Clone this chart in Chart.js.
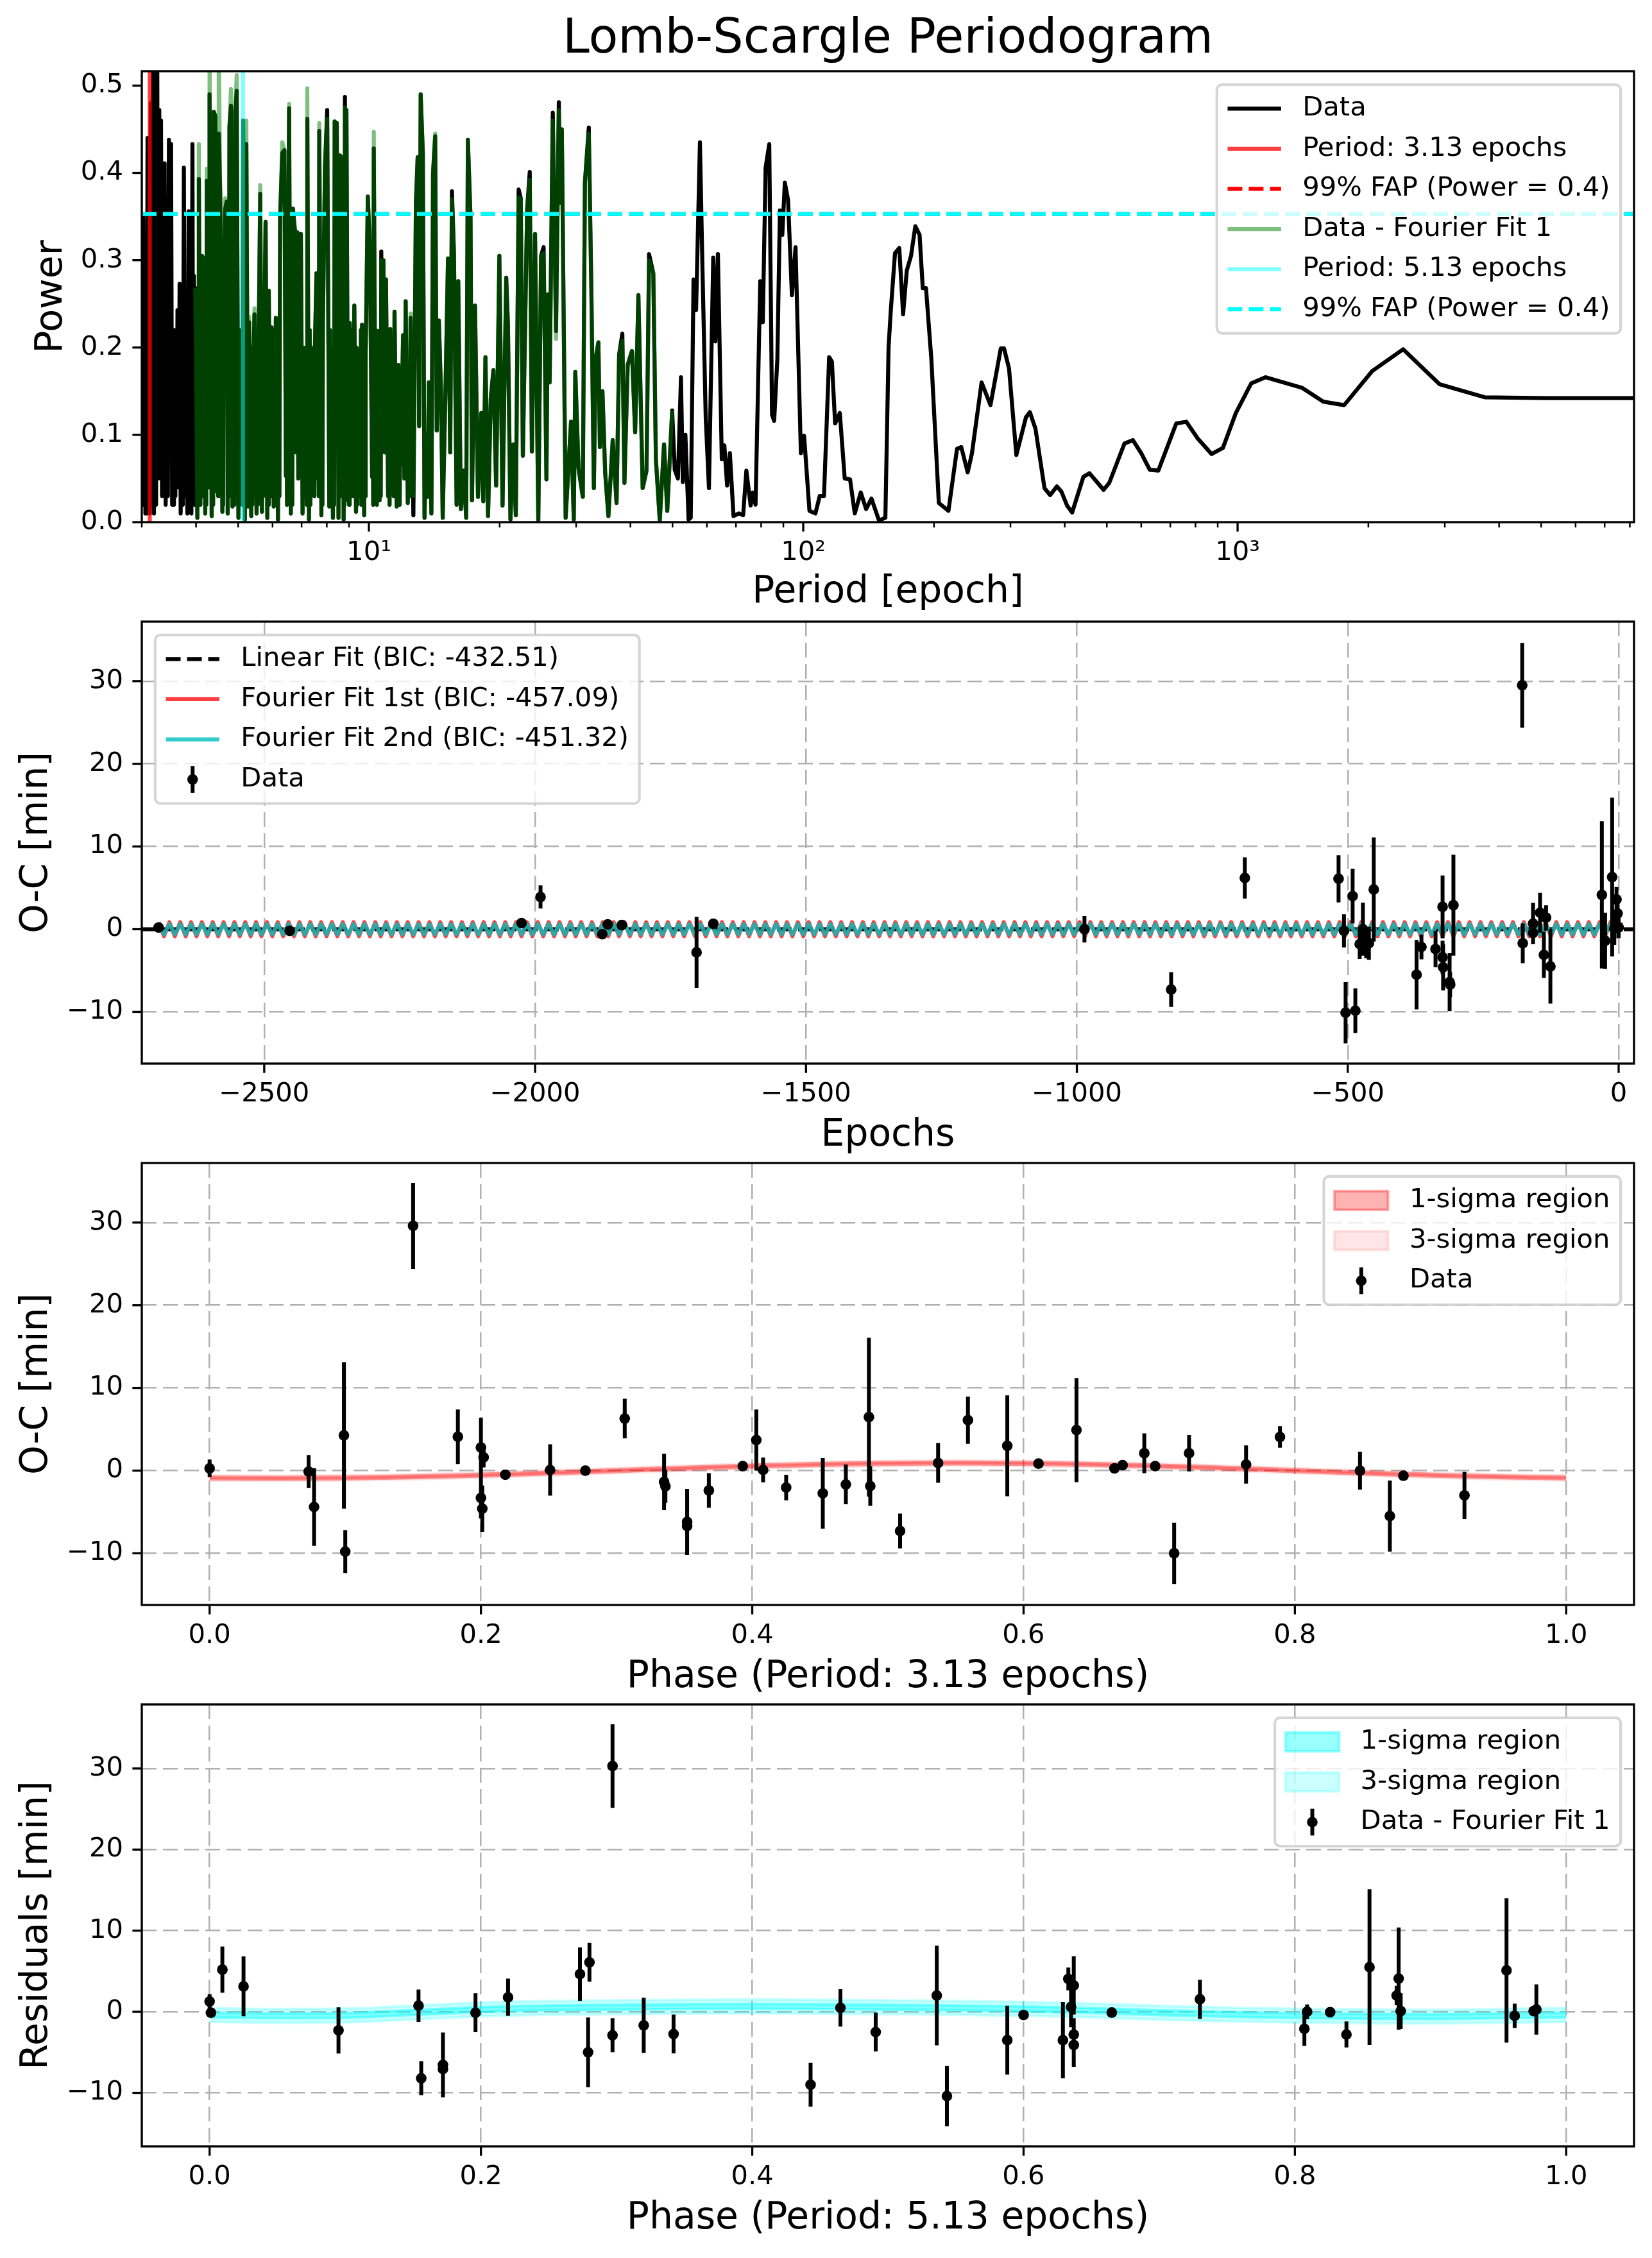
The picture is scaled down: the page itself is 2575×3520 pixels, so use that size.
<!DOCTYPE html>
<html>
<head>
<meta charset="utf-8">
<title>Lomb-Scargle Periodogram</title>
<script src="https://cdn.jsdelivr.net/npm/chart.js@4.4.0/dist/chart.umd.min.js"></script>
<style>
  html, body { margin: 0; padding: 0; background: #ffffff; }
  body { position: relative; width: 2575px; height: 3520px; overflow: hidden; }
  canvas { position: absolute; left: 0; }
</style>
</head>
<body>
<canvas id="p1" width="2575" height="974" style="top:0px;width:2575px;height:974px"></canvas>
<canvas id="p2" width="2575" height="903" style="top:915px;width:2575px;height:903px"></canvas>
<canvas id="p3" width="2575" height="903" style="top:1759px;width:2575px;height:903px"></canvas>
<canvas id="p4" width="2575" height="903" style="top:2603px;width:2575px;height:903px"></canvas>
<script>
// ================= DATA =================
// ---- Panel 1: Lomb-Scargle periodogram ----
const periodRange = [3.0, 8180];
const powerRange = [0, 0.5165];
const periodTicks = [3,4,5,6,7,8,9,10,20,30,40,50,60,70,80,90,100,200,300,400,500,600,700,800,900,1000,2000,3000,4000,5000,6000,7000,8000];
const periodMajorTicks = [10, 100, 1000];
const periodTickLabels = {10: '10\u00B9', 100: '10\u00B2', 1000: '10\u00B3'};
const powerTicks = [0, 0.1, 0.2, 0.3, 0.4, 0.5];
const powerTickLabels = ['0.0', '0.1', '0.2', '0.3', '0.4', '0.5'];
const periodMarks = [3.13, 5.13];
const fapLevels = [0.353, 0.353];

const lowPeriods = [3.000,3.012,3.024,3.036,3.048,3.058,3.068,3.080,3.093,3.105,
  3.117,3.130,3.146,3.164,3.182,3.200,3.218,3.236,3.255,3.273,
  3.292,3.306,3.322,3.340,3.360,3.372,3.386,3.405,3.425,3.445,
  3.464,3.484,3.504,3.524,3.544,3.558,3.572,3.584,3.596,3.610,
  3.625,3.645,3.666,3.687,3.708,3.729,3.750,3.771,3.793,3.820,
  3.845,3.862,3.880,3.902,3.924,3.940,3.956,3.970];
const lowPower = [0.35,0.02,0.349,0.02,0.30,0.01,0.20,0.01,0.44,0.02,
  0.35,0.01,0.48,0.02,0.56,0.01,0.25,0.02,0.58,0.05,
  0.472,0.10,0.46,0.03,0.275,0.05,0.411,0.02,0.20,0.03,
  0.438,0.10,0.433,0.02,0.20,0.02,0.22,0.03,0.217,0.05,
  0.243,0.04,0.273,0.01,0.25,0.02,0.406,0.03,0.22,0.01,
  0.356,0.02,0.25,0.01,0.433,0.05,0.282,0.02];

const midPeriods = [3.983,4.028,4.039,4.050,4.060,4.092,4.105,4.118,4.130,4.167,
  4.200,4.211,4.222,4.234,4.273,4.281,4.289,4.297,4.346,4.362,
  4.379,4.395,4.430,4.471,4.484,4.498,4.511,4.547,4.599,4.608,
  4.616,4.625,4.668,4.705,4.731,4.746,4.760,4.775,4.813,4.851,
  4.875,4.899,4.923,4.962,5.008,5.027,5.046,5.065,5.088,5.111,
  5.134,5.181,5.195,5.208,5.222,5.270,5.280,5.290,5.300,5.360,
  5.375,5.390,5.405,5.452,5.514,5.532,5.549,5.567,5.621,5.673,
  5.692,5.711,5.730,5.783,5.836,5.851,5.866,5.882,5.930,5.943,
  5.957,5.970,6.038,6.061,6.083,6.106,6.176,6.199,6.222,6.246,
  6.318,6.390,6.441,6.461,6.480,6.500,6.551,6.611,6.636,6.661,
  6.686,6.762,6.800,6.839,6.878,6.917,6.945,6.973,7.036,7.057,7.078,7.100,
  7.160,7.178,7.196,7.214,7.279,7.307,7.334,7.362,7.446,7.467,
  7.489,7.510,7.574,7.630,7.649,7.668,7.687,7.774,7.795,7.815,
  7.836,7.925,8.016,8.107,8.138,8.169,8.200,8.265,8.290,8.315,
  8.340,8.388,8.435,8.512,8.535,8.557,8.580,8.629,8.678,8.747,8.767,8.787,
  8.807,8.842,8.877,8.958,8.982,9.005,9.029,9.080,9.132,9.155,9.177,
  9.200,9.257,9.342,9.361,9.381,9.400,9.448,9.556,9.585,9.614,
  9.643,9.753,9.779,9.804,9.830,9.943,10.056,10.171,10.202,10.232,
  10.263,10.368,10.400,10.431,10.463,10.582,10.614,10.647,10.679,10.740,10.800,
  10.874,10.948,11.073,11.115,11.158,11.200,11.302,11.353,11.405,11.456,11.587,
  11.622,11.657,11.692,11.772,11.812,11.852,11.920,11.988,12.070,12.152,12.290,12.351,12.412,12.473,
  12.66,12.83,12.95,13.05,13.16,13.31,13.43,13.55,
  13.66,13.74,13.93,14.05,14.21,14.33,14.49,14.65,14.79,15.04,
  15.21,15.39,15.53,15.70,15.92,16.06,16.28,16.51,16.75,16.90,
  17.14,17.27,17.55,17.83,18.14,18.34,18.55,18.81,19.08,19.35,
  19.63,19.97,20.31,20.71,20.90,21.18,21.50,21.79,22.12,22.37,
  22.62,23.14,23.46,23.73,24.13,24.55,24.91,25.25,25.63,25.83,
  26.07,26.51,26.97,27.37,27.59,27.81,28.38,28.87,29.20,29.63,
  29.87,30.38,31.08,31.43,32.08,32.52,32.96,33.26,33.76,34.03,
  34.49,35.00,35.60,36.42,37.17,37.68,38.33,38.76,39.43,40.33,
  41.02,41.73,42.69,43.57,44.16,45.17,45.79,46.74,47.81,48.63,
  49.91];
const midPower = [0.268,0.005,0.17,0.02,0.393,0.02,0.2,0.03,0.305,0.30,
  0.01,0.15,0.02,0.391,0.053,0.2,0.04,0.49,0.007,0.22,
  0.02,0.47,0.465,0.035,0.25,0.03,0.445,0.376,0.012,0.2,
  0.02,0.26,0.359,0.367,0.01,0.22,0.03,0.453,0.477,0.018,
  0.24,0.02,0.47,0.494,0.005,0.22,0.03,0.025,0.2,0.02,
  0.46,0.003,0.18,0.02,0.433,0.018,0.17,0.03,0.229,0.007,
  0.2,0.02,0.15,0.238,0.01,0.21,0.02,0.18,0.376,0.012,
  0.2,0.03,0.17,0.344,0.005,0.19,0.02,0.265,0.05,0.2,
  0.03,0.223,0.018,0.22,0.02,0.234,0.003,0.2,0.03,0.349,
  0.423,0.426,0.053,0.18,0.02,0.20,0.474,0.01,0.22,0.02,
  0.359,0.332,0.08,0.332,0.05,0.33,0.06,0.33,0.01,0.2,0.03,0.187,
  0.05,0.2,0.02,0.462,0.003,0.22,0.02,0.199,0.054,0.2,
  0.03,0.20,0.285,0.05,0.21,0.03,0.448,0.008,0.2,0.02,
  0.228,0.408,0.472,0.018,0.22,0.03,0.174,0.005,0.2,0.02,
  0.459,0.2,0.457,0.005,0.21,0.03,0.42,0.2,0.418,0.003,0.19,0.02,
  0.487,0.25,0.472,0.025,0.2,0.02,0.228,0.10,0.03,0.22,0.03,
  0.15,0.248,0.012,0.2,0.02,0.12,0.197,0.03,0.22,0.02,
  0.226,0.008,0.2,0.03,0.192,0.373,0.31,0.052,0.2,0.02,
  0.428,0.025,0.18,0.02,0.219,0.025,0.2,0.03,0.31,0.1,0.30,
  0.08,0.278,0.03,0.2,0.02,0.221,0.042,0.19,0.03,0.241,0.018,
  0.17,0.02,0.18,0.02,0.15,0.066,0.15,0.214,0.05,0.253,0.022,0.18,0.03,0.234,
  0.008,0.366,0.418,0.11,0.49,0.423,0.005,0.10,
  0.029,0.16,0.01,0.40,0.442,0.105,0.231,0.153,0.005,0.174,
  0.302,0.08,0.379,0.308,0.02,0.276,0.015,0.059,0.005,0.438,
  0.349,0.025,0.248,0.029,0.125,0.024,0.189,0.007,0.142,0.174,
  0.042,0.305,0.019,0.28,0.226,0.003,0.089,0.008,0.381,0.371,
  0.076,0.359,0.401,0.081,0.33,0.002,0.305,0.315,0.049,0.261,
  0.16,0.469,0.219,0.481,0.366,0.45,0.005,0.072,0.115,0.003,
  0.172,0.062,0.029,0.389,0.452,0.268,0.039,0.187,0.206,0.086,
  0.15,0.056,0.007,0.094,0.022,0.192,0.216,0.045,0.18,0.196,
  0.103,0.26,0.039,0.059,0.307,0.285,0.072,0.002,0.089,0.013,
  0.128];
const midResidPower = [0.268,0.005,0.17,0.02,0.433,0.02,0.2,0.03,0.305,0.30,
  0.01,0.15,0.02,0.405,0.053,0.2,0.04,0.56,0.007,0.22,
  0.02,0.47,0.465,0.035,0.25,0.03,0.56,0.376,0.012,0.2,
  0.02,0.27,0.371,0.367,0.01,0.22,0.03,0.453,0.496,0.018,
  0.24,0.02,0.47,0.512,0.005,0.22,0.03,0.025,0.2,0.02,
  0.46,0.003,0.18,0.02,0.46,0.018,0.17,0.03,0.235,0.007,
  0.2,0.02,0.15,0.245,0.01,0.21,0.02,0.18,0.386,0.012,
  0.2,0.03,0.17,0.344,0.005,0.19,0.02,0.265,0.05,0.2,
  0.03,0.223,0.018,0.22,0.02,0.234,0.003,0.2,0.03,0.349,
  0.435,0.426,0.053,0.18,0.02,0.20,0.479,0.01,0.22,0.02,
  0.359,0.332,0.08,0.332,0.05,0.33,0.06,0.33,0.01,0.2,0.03,0.187,
  0.05,0.2,0.02,0.497,0.003,0.22,0.02,0.199,0.054,0.2,
  0.03,0.20,0.285,0.05,0.21,0.03,0.457,0.008,0.2,0.02,
  0.228,0.408,0.462,0.018,0.22,0.03,0.174,0.005,0.2,0.02,
  0.459,0.2,0.457,0.005,0.21,0.03,0.42,0.2,0.418,0.003,0.19,0.02,
  0.475,0.25,0.472,0.025,0.2,0.02,0.228,0.10,0.03,0.22,0.03,
  0.15,0.248,0.012,0.2,0.02,0.12,0.197,0.03,0.22,0.02,
  0.226,0.008,0.2,0.03,0.192,0.373,0.31,0.052,0.2,0.02,
  0.447,0.025,0.18,0.02,0.219,0.025,0.2,0.03,0.30,0.1,0.30,
  0.08,0.278,0.03,0.2,0.02,0.221,0.042,0.19,0.03,0.241,0.018,
  0.17,0.02,0.18,0.02,0.15,0.066,0.15,0.214,0.05,0.253,0.022,0.18,0.03,0.239,
  0.03,0.366,0.418,0.11,0.49,0.423,0.005,0.10,
  0.029,0.16,0.01,0.40,0.445,0.105,0.231,0.153,0.005,0.174,
  0.302,0.08,0.37,0.308,0.02,0.276,0.015,0.059,0.005,0.438,
  0.349,0.025,0.248,0.029,0.125,0.024,0.189,0.007,0.142,0.174,
  0.042,0.305,0.019,0.28,0.226,0.003,0.089,0.008,0.372,0.371,
  0.076,0.359,0.392,0.081,0.33,0.002,0.305,0.308,0.049,0.261,
  0.16,0.46,0.21,0.472,0.366,0.45,0.005,0.072,0.115,0.003,
  0.172,0.062,0.029,0.389,0.445,0.268,0.039,0.187,0.206,0.086,
  0.15,0.056,0.007,0.094,0.022,0.192,0.208,0.045,0.18,0.196,
  0.103,0.26,0.039,0.059,0.30,0.285,0.072,0.002,0.089,0.013,
  0.128];

const highPeriods = [50.60,51.46,52.30,52.82,53.54,54.46,55.08,55.90,56.67,57.83,
  58.63,59.63,60.66,62.05,62.75,63.61,64.93,65.82,66.79,67.78,
  69.10,71.09,72.72,73.97,75.66,76.53,77.66,79.62,80.71,81.91,
  83.51,84.75,85.71,87.18,88.38,89.49,90.71,92.27,94.17,96.00,
  98.76,100.46,103.35,106.68,109.12,111.63,114.71,116.41,118.41,121.40,
  124.60,128.18,131.42,135.66,139.56,143.58,149.39,154.55,157.20,159.00,
  162.64,166.37,169.80,173.11,177.08,181.14,185.29,188.47,191.70,197.21,
  205.19,215.93,225.95,231.13,239.13,244.61,257.42,269.8,285.0,290.0,
  297.7,309.5,325.6,332.5,342.5,359.3,370.2,383.7,393.0,405.0,
  416.0,441.6,456.0,491.5,506.5,548.8,574.0,600.0,627.8,656.9,
  722.4,762.0,809.0,871.6,925.0,990.8,1075,1159,1406,1575,
  1759,2041,2405,2918,3705,5143,8180];
const highPower = [0.06,0.05,0.166,0.046,0.10,0.003,0.005,0.278,0.243,0.435,
  0.288,0.12,0.039,0.303,0.207,0.307,0.072,0.088,0.042,0.079,
  0.007,0.01,0.008,0.059,0.019,0.034,0.02,0.276,0.229,0.406,
  0.433,0.123,0.116,0.187,0.357,0.329,0.389,0.369,0.26,0.315,
  0.079,0.099,0.013,0.01,0.03,0.03,0.189,0.184,0.113,0.125,
  0.05,0.049,0.01,0.034,0.015,0.027,0.002,0.005,0.20,0.241,
  0.308,0.314,0.238,0.288,0.305,0.339,0.329,0.268,0.268,0.187,
  0.022,0.013,0.084,0.086,0.057,0.079,0.16,0.134,0.199,0.199,
  0.176,0.077,0.12,0.126,0.107,0.039,0.031,0.041,0.035,0.019,
  0.011,0.052,0.056,0.037,0.045,0.09,0.094,0.079,0.06,0.059,
  0.113,0.115,0.096,0.078,0.085,0.125,0.159,0.166,0.154,0.138,
  0.134,0.173,0.198,0.158,0.143,0.142,0.142];

// ---- Panel 2: O-C vs epoch ----
const epochRange = [-2726, 28.4];
const ocRange = [-16.25, 37.2];
const epochTicks = [-2500, -2000, -1500, -1000, -500, 0];
const epochTickLabels = ['\u22122500', '\u22122000', '\u22121500', '\u22121000', '\u2212500', '0'];
const ocTicks = [-10, 0, 10, 20, 30];
const ocTickLabels = ['\u221210', '0', '10', '20', '30'];

const epochs = [-2695,-2453,-2025,-1990,-1876,-1866,-1840,-1702,-1671,-986,-826,-690,
  -517,-507,-504,-491,-486,-478,-472,-466,-461,-452,
  -373,-364,-338,-325,-325,-324,-312,-311,-305,
  -178,-177,-158,-158,-145,-138,-134,-126,
  -31,-25,-12,-8,-4,-2,0];
const ocValues = [0.2,-0.2,0.74,3.9,-0.6,0.58,0.5,-2.8,0.66,0.0,-7.3,6.2,
  6.1,-0.2,-10.1,4.0,-9.85,-1.8,0.0,-2.0,-1.7,4.8,
  -5.5,-2.15,-2.4,2.7,-3.4,-4.6,-6.4,-6.7,2.9,
  29.5,-1.7,0.68,-0.45,2.0,-3.1,1.4,-4.5,
  4.15,-1.4,6.3,0.1,3.6,1.9,0.2];
const ocErrors = [0.3,0.5,0.4,1.4,0.5,0.5,0.4,4.3,0.4,1.6,2.1,2.5,
  2.85,2.0,3.7,3.3,2.7,1.8,3.2,1.5,2.0,6.3,
  4.2,1.5,2.2,3.8,2.0,2.8,3.5,1.5,6.1,
  5.13,2.4,2.5,1.0,2.4,2.8,1.5,4.5,
  8.9,3.4,9.6,2.0,1.5,1.5,1.3];

const linFitEpochs = [-2726, 28.4];
const linFitOC = [0.0, 0.0];

const waveEpochs = [-2695,-2685,-2675,-2665,-2655,-2645,-2635,-2625,-2615,-2605,
  -2595,-2585,-2575,-2565,-2555,-2545,-2535,-2525,-2515,-2505,
  -2495,-2485,-2475,-2465,-2455,-2445,-2435,-2425,-2415,-2405,
  -2395,-2385,-2375,-2365,-2355,-2345,-2335,-2325,-2315,-2305,
  -2295,-2285,-2275,-2265,-2255,-2245,-2235,-2225,-2215,-2205,
  -2195,-2185,-2175,-2165,-2155,-2145,-2135,-2125,-2115,-2105,
  -2095,-2085,-2075,-2065,-2055,-2045,-2035,-2025,-2015,-2005,
  -1995,-1985,-1975,-1965,-1955,-1945,-1935,-1925,-1915,-1905,
  -1895,-1885,-1875,-1865,-1855,-1845,-1835,-1825,-1815,-1805,
  -1795,-1785,-1775,-1765,-1755,-1745,-1735,-1725,-1715,-1705,
  -1695,-1685,-1675,-1665,-1655,-1645,-1635,-1625,-1615,-1605,
  -1595,-1585,-1575,-1565,-1555,-1545,-1535,-1525,-1515,-1505,
  -1495,-1485,-1475,-1465,-1455,-1445,-1435,-1425,-1415,-1405,
  -1395,-1385,-1375,-1365,-1355,-1345,-1335,-1325,-1315,-1305,
  -1295,-1285,-1275,-1265,-1255,-1245,-1235,-1225,-1215,-1205,
  -1195,-1185,-1175,-1165,-1155,-1145,-1135,-1125,-1115,-1105,
  -1095,-1085,-1075,-1065,-1055,-1045,-1035,-1025,-1015,-1005,
  -995,-985,-975,-965,-955,-945,-935,-925,-915,-905,
  -895,-885,-875,-865,-855,-845,-835,-825,-815,-805,
  -795,-785,-775,-765,-755,-745,-735,-725,-715,-705,
  -695,-685,-675,-665,-655,-645,-635,-625,-615,-605,
  -595,-585,-575,-565,-555,-545,-535,-525,-515,-505,
  -495,-485,-475,-465,-455,-445,-435,-425,-415,-405,
  -395,-385,-375,-365,-355,-345,-335,-325,-315,-305,
  -295,-285,-275,-265,-255,-245,-235,-225,-215,-205,
  -195,-185,-175,-165,-155,-145,-135,-125,-115,-105,
  -95,-85,-75,-65,-55,-45,-35,-25,-15,-5,
  5];
const redWave = [0.85,-0.85,0.85,-0.85,0.85,-0.85,0.85,-0.85,0.85,-0.85,
  0.85,-0.85,0.85,-0.85,0.85,-0.85,0.85,-0.85,0.85,-0.85,
  0.85,-0.85,0.85,-0.85,0.85,-0.85,0.85,-0.85,0.85,-0.85,
  0.85,-0.85,0.85,-0.85,0.85,-0.85,0.85,-0.85,0.85,-0.85,
  0.85,-0.85,0.85,-0.85,0.85,-0.85,0.85,-0.85,0.85,-0.85,
  0.85,-0.85,0.85,-0.85,0.85,-0.85,0.85,-0.85,0.85,-0.85,
  0.85,-0.85,0.85,-0.85,0.85,-0.85,0.85,-0.85,0.85,-0.85,
  0.85,-0.85,0.85,-0.85,0.85,-0.85,0.85,-0.85,0.85,-0.85,
  0.85,-0.85,0.85,-0.85,0.85,-0.85,0.85,-0.85,0.85,-0.85,
  0.85,-0.85,0.85,-0.85,0.85,-0.85,0.85,-0.85,0.85,-0.85,
  0.85,-0.85,0.85,-0.85,0.85,-0.85,0.85,-0.85,0.85,-0.85,
  0.85,-0.85,0.85,-0.85,0.85,-0.85,0.85,-0.85,0.85,-0.85,
  0.85,-0.85,0.85,-0.85,0.85,-0.85,0.85,-0.85,0.85,-0.85,
  0.85,-0.85,0.85,-0.85,0.85,-0.85,0.85,-0.85,0.85,-0.85,
  0.85,-0.85,0.85,-0.85,0.85,-0.85,0.85,-0.85,0.85,-0.85,
  0.85,-0.85,0.85,-0.85,0.85,-0.85,0.85,-0.85,0.85,-0.85,
  0.85,-0.85,0.85,-0.85,0.85,-0.85,0.85,-0.85,0.85,-0.85,
  0.85,-0.85,0.85,-0.85,0.85,-0.85,0.85,-0.85,0.85,-0.85,
  0.85,-0.85,0.85,-0.85,0.85,-0.85,0.85,-0.85,0.85,-0.85,
  0.85,-0.85,0.85,-0.85,0.85,-0.85,0.85,-0.85,0.85,-0.85,
  0.85,-0.85,0.85,-0.85,0.85,-0.85,0.85,-0.85,0.85,-0.85,
  0.85,-0.85,0.85,-0.85,0.85,-0.85,0.85,-0.85,0.85,-0.85,
  0.85,-0.85,0.85,-0.85,0.85,-0.85,0.85,-0.85,0.85,-0.85,
  0.85,-0.85,0.85,-0.85,0.85,-0.85,0.85,-0.85,0.85,-0.85,
  0.85,-0.85,0.85,-0.85,0.85,-0.85,0.85,-0.85,0.85,-0.85,
  0.85,-0.85,0.85,-0.85,0.85,-0.85,0.85,-0.85,0.85,-0.85,
  0.85,-0.85,0.85,-0.85,0.85,-0.85,0.85,-0.85,0.85,-0.85,
  0.85];
const tealWave = [0.62,-0.62,0.62,-0.62,0.62,-0.62,0.62,-0.62,0.62,-0.62,
  0.62,-0.62,0.62,-0.62,0.62,-0.62,0.62,-0.62,0.62,-0.62,
  0.62,-0.62,0.62,-0.62,0.62,-0.62,0.62,-0.62,0.62,-0.62,
  0.62,-0.62,0.62,-0.62,0.62,-0.62,0.62,-0.62,0.62,-0.62,
  0.62,-0.62,0.62,-0.62,0.62,-0.62,0.62,-0.62,0.62,-0.62,
  0.62,-0.62,0.62,-0.62,0.62,-0.62,0.62,-0.62,0.62,-0.62,
  0.62,-0.62,0.62,-0.62,0.62,-0.62,0.62,-0.62,0.62,-0.62,
  0.62,-0.62,0.62,-0.62,0.62,-0.62,0.62,-0.62,0.62,-0.62,
  0.62,-0.62,0.62,-0.62,0.62,-0.62,0.62,-0.62,0.62,-0.62,
  0.62,-0.62,0.62,-0.62,0.62,-0.62,0.62,-0.62,0.62,-0.62,
  0.62,-0.62,0.62,-0.62,0.62,-0.62,0.62,-0.62,0.62,-0.62,
  0.62,-0.62,0.62,-0.62,0.62,-0.62,0.62,-0.62,0.62,-0.62,
  0.62,-0.62,0.62,-0.62,0.62,-0.62,0.62,-0.62,0.62,-0.62,
  0.62,-0.62,0.62,-0.62,0.62,-0.62,0.62,-0.62,0.62,-0.62,
  0.62,-0.62,0.62,-0.62,0.62,-0.62,0.62,-0.62,0.62,-0.62,
  0.62,-0.62,0.62,-0.62,0.62,-0.62,0.62,-0.62,0.62,-0.62,
  0.62,-0.62,0.62,-0.62,0.62,-0.62,0.62,-0.62,0.62,-0.62,
  0.62,-0.62,0.62,-0.62,0.62,-0.62,0.62,-0.62,0.62,-0.62,
  0.62,-0.62,0.62,-0.62,0.62,-0.62,0.62,-0.62,0.62,-0.62,
  0.62,-0.62,0.62,-0.62,0.62,-0.62,0.62,-0.62,0.62,-0.62,
  0.62,-0.62,0.62,-0.62,0.62,-0.62,0.62,-0.62,0.62,-0.62,
  0.62,-0.62,0.62,-0.62,0.62,-0.62,0.62,-0.62,0.62,-0.62,
  0.62,-0.62,0.62,-0.62,0.62,-0.62,0.62,-0.62,0.62,-0.62,
  0.62,-0.62,0.62,-0.62,0.62,-0.62,0.62,-0.62,0.62,-0.62,
  0.62,-0.62,0.62,-0.62,0.62,-0.62,0.62,-0.62,0.62,-0.62,
  0.62,-0.62,0.62,-0.62,0.62,-0.62,0.62,-0.62,0.62,-0.62,
  0.62,-0.62,0.62,-0.62,0.62,-0.62,0.62,-0.62,0.62,-0.62,
  0.62];

// ---- Panel 3: O-C folded on 3.13 epochs ----
const phaseRange = [-0.05, 1.05];
const phaseTicks = [0, 0.2, 0.4, 0.6, 0.8, 1.0];
const phaseTickLabels = ['0.0', '0.2', '0.4', '0.6', '0.8', '1.0'];
const phase1 = [0.000,0.073,0.077,0.099,0.100,0.150,0.183,0.200,0.202,0.200,0.201,0.218,0.251,0.277,0.306,0.335,0.336,0.352,0.352,0.368,0.393,0.403,0.408,0.425,0.452,0.469,0.486,0.487,0.509,0.537,0.559,0.588,0.611,0.639,0.667,0.673,0.689,0.697,0.711,0.722,0.764,0.789,0.848,0.870,0.880,0.925];
const oc1 = [0.27,-0.12,-4.4,4.26,-9.8,29.6,4.1,2.8,1.6,-3.3,-4.6,-0.5,0.08,0.0,6.3,-1.36,-1.9,-6.2,-6.7,-2.4,0.54,3.7,0.08,-2.05,-2.75,-1.67,6.47,-1.86,-7.3,0.93,6.1,3.0,0.85,4.9,0.27,0.66,2.1,0.54,-10.0,2.1,0.74,4.07,0.0,-5.5,-0.62,-3.0];
const err1 = [1.07,2.0,4.7,8.86,2.6,5.2,3.3,3.6,1.2,2.5,2.8,0.4,3.1,0.4,2.4,3.4,2.0,4.0,2.0,2.1,0.4,3.7,1.5,1.55,4.26,2.4,9.6,2.4,2.1,2.4,2.85,6.1,0.4,6.3,0.4,0.4,2.4,0.4,3.7,2.2,2.3,1.3,2.3,4.3,0.4,2.85];
const bandPhase = [0,0.05,0.1,0.15,0.2,0.25,0.3,0.35,0.4,0.45,0.5,0.55,0.6,0.65,0.7,0.75,0.8,0.85,0.9,0.95,1.0];
const fit1Curve = [-0.90,-0.93,-0.88,-0.75,-0.55,-0.29,0.00,0.29,0.55,0.75,0.88,0.93,0.88,0.75,0.55,0.29,0.00,-0.29,-0.55,-0.75,-0.88];
const fit1HalfWidth = [0.15, 0.3];   // 1-sigma, 3-sigma

// ---- Panel 4: residuals folded on 5.13 epochs ----
const residRange = [-16.6, 37.9];
const phase2 = [0.000,0.001,0.0094,0.025,0.095,0.154,0.156,0.172,0.172,0.196,0.220,0.273,0.280,0.279,0.297,0.297,0.320,0.342,0.443,0.465,0.491,0.536,0.5435,0.588,0.600,0.629,0.633,0.637,0.635,0.637,0.637,0.665,0.730,0.807,0.809,0.826,0.838,0.855,0.875,0.8765,0.878,0.956,0.962,0.976,0.978];
const resid2 = [1.27,-0.12,5.2,3.13,-2.3,0.75,-8.2,-6.55,-7.06,-0.12,1.79,4.64,6.1,-5.0,30.3,-2.9,-1.67,-2.74,-9.0,0.48,-2.5,2.0,-10.4,-3.5,-0.4,-3.5,4.05,3.25,0.6,-2.8,-4.1,-0.1,1.55,-2.1,0.0,-0.05,-2.8,5.5,2.0,4.1,0.08,5.1,-0.5,0.08,0.28];
const err2 = [0.9,0.4,2.85,3.7,2.85,2.0,2.1,4.0,1.5,2.4,2.3,3.3,2.4,4.3,5.15,2.1,3.4,2.4,2.7,2.3,2.4,6.15,3.7,4.25,0.4,4.7,1.4,3.6,2.5,2.0,2.7,0.4,2.4,2.1,0.9,0.4,1.6,9.6,1.2,6.3,2.2,8.9,1.5,0.4,3.1];
const fit2Curve = [-0.40,-0.50,-0.45,-0.10,0.28,0.48,0.56,0.63,0.67,0.63,0.56,0.48,0.36,0.16,-0.12,-0.32,-0.48,-0.55,-0.60,-0.50,-0.40];
const fit2HalfWidth = [0.3, 0.85];    // 1-sigma, 3-sigma

// ================= RENDERING =================
const FONT = "'DejaVu Sans', sans-serif";
Chart.defaults.font.family = FONT;
Chart.defaults.color = '#000000';
const FS_TICK = 41.7, FS_LABEL = 58.3, FS_LEG = 41.7, LW = 6.25;

function toPoints(xs, ys) { return xs.map((x, i) => ({ x: x, y: ys[i] })); }
function errorSegments(xs, ys, es) {
  const out = [];
  xs.forEach((x, i) => {
    out.push({ x: x, y: ys[i] - es[i] }, { x: x, y: ys[i] + es[i] }, { x: x, y: null });
  });
  return out;
}
function offsetCurve(ys, d) { return ys.map(v => v + d); }

function lineSet(label, data, color, width, extra) {
  return Object.assign({
    type: 'line', label: label, data: data, borderColor: color, backgroundColor: color,
    borderWidth: width, pointRadius: 0, pointHoverRadius: 0, fill: false, tension: 0,
    borderJoinStyle: 'round', borderCapStyle: 'butt', spanGaps: false, clip: 0
  }, extra || {});
}
function markerSet(label, data) {
  return {
    type: 'line', label: label, data: data, showLine: false, pointRadius: 8.3, pointHoverRadius: 8.3,
    pointBackgroundColor: '#000', pointBorderColor: '#000', pointBorderWidth: 0,
    borderColor: '#000', backgroundColor: '#000', clip: 0
  };
}

function axis(o) {
  const isX = o.isX;
  return {
    type: o.type || 'linear',
    position: isX ? 'bottom' : 'left',
    min: o.range[0], max: o.range[1], bounds: 'data',
    afterBuildTicks: s => { s.ticks = o.ticks.map(v => ({ value: v })); },
    afterFit: s => { if (isX) { s.height = 160; } else { s.width = 221; } },
    ticks: { autoSkip: false, maxRotation: 0, minRotation: 0, padding: isX ? 23 : 29,
             color: '#000', font: { size: FS_TICK }, callback: o.label },
    grid: { display: o.grid, drawOnChartArea: o.grid, drawTicks: false, color: '#b0b0b0', lineWidth: 2.5 },
    border: { display: false, dash: [23, 10] },
    title: { display: true, text: o.title, color: '#000', font: { size: FS_LABEL },
             padding: isX ? { top: 0, bottom: o.titlePad } : { top: o.titlePad, bottom: 0 } }
  };
}

function drawLegend(chart, lg) {
  if (!lg) return;
  const ctx = chart.ctx, a = chart.chartArea, fs = FS_LEG;
  const dsets = chart.data.datasets;
  ctx.font = 'normal ' + fs + 'px ' + FONT;
  let tw = 0;
  lg.items.forEach(it => { tw = Math.max(tw, ctx.measureText(dsets[it[0]].label).width); });
  const pad = 0.4 * fs, hl = 2.0 * fs, htp = 0.8 * fs, ls = 0.5 * fs;
  const n = lg.items.length;
  const W = pad + hl + htp + tw + pad;
  const H = 2 * pad + n * fs + (n - 1) * ls;
  const L = lg.loc === 'upper left' ? a.left + 0.5 * fs : a.right - 0.5 * fs - W;
  const T = a.top + 0.5 * fs;
  const r = 0.2 * fs;
  ctx.beginPath();
  ctx.moveTo(L + r, T); ctx.lineTo(L + W - r, T); ctx.arcTo(L + W, T, L + W, T + r, r);
  ctx.lineTo(L + W, T + H - r); ctx.arcTo(L + W, T + H, L + W - r, T + H, r);
  ctx.lineTo(L + r, T + H); ctx.arcTo(L, T + H, L, T + H - r, r);
  ctx.lineTo(L, T + r); ctx.arcTo(L, T, L + r, T, r); ctx.closePath();
  ctx.fillStyle = 'rgba(255,255,255,0.8)'; ctx.fill();
  ctx.setLineDash([]); ctx.lineWidth = 4.17; ctx.strokeStyle = 'rgba(204,204,204,0.8)'; ctx.stroke();
  lg.items.forEach((it, i) => {
    const d = dsets[it[0]], kind = it[1];
    const cy = T + pad + fs / 2 + i * (fs + ls);
    const x0 = L + pad, x1 = x0 + hl;
    if (kind === 'line') {
      ctx.setLineDash(d.borderDash || []);
      ctx.strokeStyle = d.borderColor; ctx.lineWidth = d.borderWidth; ctx.lineCap = 'butt';
      ctx.beginPath(); ctx.moveTo(x0, cy); ctx.lineTo(x1, cy); ctx.stroke();
      ctx.setLineDash([]);
    } else if (kind === 'patch') {
      const h = 0.7 * fs;
      ctx.fillStyle = d.backgroundColor; ctx.fillRect(x0, cy - h / 2, hl, h);
      ctx.strokeStyle = d.borderColor; ctx.lineWidth = 4.17; ctx.strokeRect(x0, cy - h / 2, hl, h);
    } else if (kind === 'errorbar') {
      const xc = (x0 + x1) / 2;
      ctx.strokeStyle = '#000'; ctx.lineWidth = 6; ctx.lineCap = 'butt';
      ctx.beginPath(); ctx.moveTo(xc, cy - fs / 2); ctx.lineTo(xc, cy + fs / 2); ctx.stroke();
      ctx.fillStyle = '#000'; ctx.beginPath(); ctx.arc(xc, cy, 8.3, 0, Math.PI * 2); ctx.fill();
    }
    ctx.fillStyle = '#000'; ctx.textBaseline = 'middle'; ctx.textAlign = 'left';
    ctx.fillText(d.label, x1 + htp, cy);
  });
}

function decorPlugin(legendCfg, majorX) {
  return {
    id: 'mplDecor',
    afterDatasetsDraw(chart) {
      const ctx = chart.ctx, a = chart.chartArea;
      const xs = chart.scales.x, ys = chart.scales.y;
      ctx.save();
      ctx.setLineDash([]); ctx.strokeStyle = '#000'; ctx.lineCap = 'butt';
      xs.ticks.forEach(t => {
        const major = !majorX || majorX.indexOf(t.value) >= 0;
        const len = major ? 14.6 : 8.3;
        ctx.lineWidth = major ? 3.33 : 2.5;
        const p = xs.getPixelForValue(t.value);
        ctx.beginPath(); ctx.moveTo(p, a.bottom); ctx.lineTo(p, a.bottom + len); ctx.stroke();
      });
      ys.ticks.forEach(t => {
        ctx.lineWidth = 3.33;
        const p = ys.getPixelForValue(t.value);
        ctx.beginPath(); ctx.moveTo(a.left, p); ctx.lineTo(a.left - 14.6, p); ctx.stroke();
      });
      ctx.lineWidth = 3.33;
      ctx.strokeRect(a.left, a.top, a.right - a.left, a.bottom - a.top);
      drawLegend(chart, legendCfg);
      ctx.restore();
    }
  };
}

function makeChart(id, cfg) {
  cfg.datasets.forEach((d, i) => { d.order = -i; });
  return new Chart(document.getElementById(id), {
    type: 'line',
    data: { datasets: cfg.datasets },
    options: {
      responsive: false, maintainAspectRatio: false, animation: false, devicePixelRatio: 1, events: [],
      layout: { padding: cfg.padding },
      plugins: { legend: { display: false }, tooltip: { enabled: false }, title: cfg.title || { display: false } },
      scales: { x: cfg.x, y: cfg.y }
    },
    plugins: [decorPlugin(cfg.legend, cfg.majorX)]
  });
}

// ---------- Panel 1 ----------
const blackPeriods = lowPeriods.concat(midPeriods, highPeriods);
const blackPower = lowPower.concat(midPower, highPower);
makeChart('p1', {
  padding: { left: 0, right: 28, top: 0, bottom: 0 },
  title: { display: true, text: 'Lomb-Scargle Periodogram', color: '#000', fullSize: false,
           font: { size: 75, weight: 'normal' }, padding: { top: 18, bottom: 3 } },
  x: axis({ isX: true, type: 'logarithmic', range: periodRange, ticks: periodTicks, grid: false,
            label: v => periodTickLabels[v] || '', title: 'Period [epoch]', titlePad: 15 }),
  y: axis({ isX: false, range: powerRange, ticks: powerTicks, grid: false,
            label: (v, i) => powerTickLabels[i], title: 'Power', titlePad: 46 }),
  majorX: periodMajorTicks,
  datasets: [
    lineSet('Data', toPoints(blackPeriods, blackPower), '#000000', LW),
    lineSet('Period: 3.13 epochs', [{ x: periodMarks[0], y: powerRange[0] }, { x: periodMarks[0], y: powerRange[1] }], 'rgba(255,0,0,0.75)', LW),
    lineSet('99% FAP (Power = 0.4)', [{ x: periodRange[0], y: fapLevels[0] }, { x: periodRange[1], y: fapLevels[0] }], '#ff0000', LW, { borderDash: [23, 10] }),
    lineSet('Data - Fourier Fit 1', toPoints(midPeriods, midResidPower), 'rgba(0,128,0,0.5)', LW),
    lineSet('Period: 5.13 epochs', [{ x: periodMarks[1], y: powerRange[0] }, { x: periodMarks[1], y: powerRange[1] }], 'rgba(0,255,255,0.5)', LW),
    lineSet('99% FAP (Power = 0.4)', [{ x: periodRange[0], y: fapLevels[1] }, { x: periodRange[1], y: fapLevels[1] }], '#00ffff', LW, { borderDash: [23, 10] })
  ],
  legend: { loc: 'upper right', items: [[0, 'line'], [1, 'line'], [2, 'line'], [3, 'line'], [4, 'line'], [5, 'line']] }
});

// ---------- Panel 2 ----------
makeChart('p2', {
  padding: { left: 0, right: 28, top: 40, bottom: 0 },
  x: axis({ isX: true, range: epochRange, ticks: epochTicks, grid: true,
            label: (v, i) => epochTickLabels[i], title: 'Epochs', titlePad: 12 }),
  y: axis({ isX: false, range: ocRange, ticks: ocTicks, grid: true,
            label: (v, i) => ocTickLabels[i], title: 'O-C [min]', titlePad: 23 }),
  datasets: [
    lineSet('Linear Fit (BIC: -432.51)', toPoints(linFitEpochs, linFitOC), '#000000', LW, { borderDash: [23, 10] }),
    lineSet('Fourier Fit 1st (BIC: -457.09)', toPoints(waveEpochs, redWave), 'rgba(255,0,0,0.75)', LW),
    lineSet('Fourier Fit 2nd (BIC: -451.32)', toPoints(waveEpochs, tealWave), 'rgba(0,191,191,0.8)', LW),
    lineSet('', errorSegments(epochs, ocValues, ocErrors), '#000000', 6),
    markerSet('Data', toPoints(epochs, ocValues))
  ],
  legend: { loc: 'upper left', items: [[0, 'line'], [1, 'line'], [2, 'line'], [4, 'errorbar']] }
});

// ---------- Panel 3 ----------
makeChart('p3', {
  padding: { left: 0, right: 28, top: 40, bottom: 0 },
  x: axis({ isX: true, range: phaseRange, ticks: phaseTicks, grid: true,
            label: (v, i) => phaseTickLabels[i], title: 'Phase (Period: 3.13 epochs)', titlePad: 12 }),
  y: axis({ isX: false, range: ocRange, ticks: ocTicks, grid: true,
            label: (v, i) => ocTickLabels[i], title: 'O-C [min]', titlePad: 23 }),
  datasets: [
    lineSet('', toPoints(bandPhase, offsetCurve(fit1Curve, -fit1HalfWidth[1])), 'rgba(255,0,0,0.1)', 4.17, { cubicInterpolationMode: 'monotone' }),
    lineSet('3-sigma region', toPoints(bandPhase, offsetCurve(fit1Curve, fit1HalfWidth[1])), 'rgba(255,0,0,0.1)', 4.17, { fill: '-1', cubicInterpolationMode: 'monotone' }),
    lineSet('', toPoints(bandPhase, offsetCurve(fit1Curve, -fit1HalfWidth[0])), 'rgba(255,0,0,0.3)', 4.17, { cubicInterpolationMode: 'monotone' }),
    lineSet('1-sigma region', toPoints(bandPhase, offsetCurve(fit1Curve, fit1HalfWidth[0])), 'rgba(255,0,0,0.3)', 4.17, { fill: '-1', cubicInterpolationMode: 'monotone' }),
    lineSet('', errorSegments(phase1, oc1, err1), '#000000', 6),
    markerSet('Data', toPoints(phase1, oc1))
  ],
  legend: { loc: 'upper right', items: [[3, 'patch'], [1, 'patch'], [5, 'errorbar']] }
});

// ---------- Panel 4 ----------
makeChart('p4', {
  padding: { left: 0, right: 28, top: 40, bottom: 0 },
  x: axis({ isX: true, range: phaseRange, ticks: phaseTicks, grid: true,
            label: (v, i) => phaseTickLabels[i], title: 'Phase (Period: 5.13 epochs)', titlePad: 12 }),
  y: axis({ isX: false, range: residRange, ticks: ocTicks, grid: true,
            label: (v, i) => ocTickLabels[i], title: 'Residuals [min]', titlePad: 23 }),
  datasets: [
    lineSet('', toPoints(bandPhase, offsetCurve(fit2Curve, -fit2HalfWidth[1])), 'rgba(0,255,255,0.2)', 4.17, { cubicInterpolationMode: 'monotone' }),
    lineSet('3-sigma region', toPoints(bandPhase, offsetCurve(fit2Curve, fit2HalfWidth[1])), 'rgba(0,255,255,0.2)', 4.17, { fill: '-1', cubicInterpolationMode: 'monotone' }),
    lineSet('', toPoints(bandPhase, offsetCurve(fit2Curve, -fit2HalfWidth[0])), 'rgba(0,255,255,0.4)', 4.17, { cubicInterpolationMode: 'monotone' }),
    lineSet('1-sigma region', toPoints(bandPhase, offsetCurve(fit2Curve, fit2HalfWidth[0])), 'rgba(0,255,255,0.4)', 4.17, { fill: '-1', cubicInterpolationMode: 'monotone' }),
    lineSet('', errorSegments(phase2, resid2, err2), '#000000', 6),
    markerSet('Data - Fourier Fit 1', toPoints(phase2, resid2))
  ],
  legend: { loc: 'upper right', items: [[3, 'patch'], [1, 'patch'], [5, 'errorbar']] }
});
</script>
</body>
</html>
